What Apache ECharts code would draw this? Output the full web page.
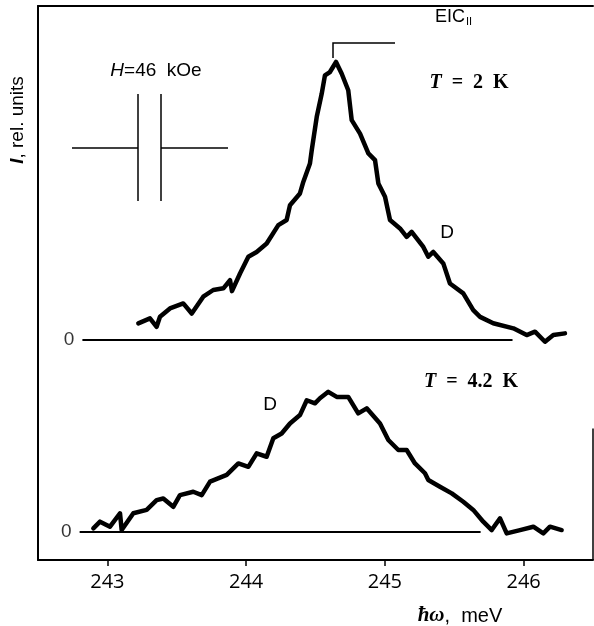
<!DOCTYPE html>
<html>
<head>
<meta charset="utf-8">
<script src="https://cdn.jsdelivr.net/npm/echarts@6/dist/echarts.min.js"></script>
<style>
html,body{margin:0;padding:0;background:#fff;}
#c{width:594px;height:626px;}
</style>
</head>
<body>
<div id="c"></div>
<script>
// ---- data ----
const xTicks = [243, 244, 245, 246];

// T = 2 K trace (energy, meV) and intensity relative to its own baseline
const upperE = [243.223,243.307,243.355,243.379,243.451,243.547,243.608,243.691,243.763,243.836,243.884,243.898,243.956,244.016,244.076,244.148,244.232,244.292,244.316,244.388,244.412,244.46,244.473,244.509,244.545,244.568,244.604,244.648,244.689,244.736,244.761,244.821,244.881,244.929,244.953,245.001,245.037,245.109,245.157,245.193,245.277,245.313,245.349,245.421,245.469,245.565,245.637,245.686,245.781,245.926,246.022,246.082,246.154,246.214,246.298];
const upperI = [5.96,7.75,4.75,8.32,11.3,13.1,9.5,15.5,17.9,18.5,21.4,17.5,23.8,29.8,31.5,34.5,41.1,42.9,48.2,52.4,56.5,63.1,67.9,79.8,88.1,94.6,95.8,99.4,95.2,89.3,78.6,73.8,66.7,64.3,56,51.2,42.9,39.9,36.9,38.7,33.3,29.8,31.5,27.4,20.2,16.7,10.7,8.3,6,4.2,1.8,3,-0.6,1.8,2.4];

// T = 4.2 K trace
const lowerE = [242.899,242.947,243.019,243.091,243.103,243.187,243.283,243.355,243.403,243.475,243.523,243.619,243.68,243.74,243.86,243.944,244.016,244.076,244.148,244.196,244.256,244.316,244.388,244.437,244.496,244.532,244.592,244.653,244.736,244.808,244.869,244.965,245.025,245.097,245.157,245.217,245.289,245.313,245.397,245.482,245.565,245.637,245.709,245.77,245.83,245.878,245.974,246.07,246.142,246.19,246.274];
const lowerI = [1.3,3.7,1.9,6.7,0.7,6.7,7.9,11.4,12,9,13.2,14.4,13.2,18,20.4,24.5,23.3,28.1,26.9,33.5,35.2,38.8,41.8,47.1,46,47.8,50.1,48.3,48.3,42.4,44.2,38.8,32.9,29.3,29.3,24.5,21,18.6,16.2,13.8,10.8,7.9,3.7,0.7,4.9,-0.5,0.7,1.9,-0.5,1.9,0.7];

// baselines (zero levels) and their extents
const upperOffset = 68.6;
const lowerOffset = 0;
const upperBaseRange = [242.82, 245.92];
const lowerBaseRange = [242.80, 245.69];

// ---- build ----
const upperData = upperE.map((e, i) => [e, upperI[i] + upperOffset]);
const lowerData = lowerE.map((e, i) => [e, lowerI[i] + lowerOffset]);

const chart = echarts.init(document.getElementById('c'), null, {renderer: 'canvas'});
const lineCol = '#000';
const sans = '"Liberation Sans", Arial, sans-serif';
const serif = '"Liberation Serif", "DejaVu Serif", serif';

const option = {
  backgroundColor: '#fff',
  animation: false,
  grid: {left: 38, right: 1, top: 6, bottom: 66, containLabel: false},
  xAxis: [{
    type: 'value', min: 242.5, max: 246.5, position: 'bottom',
    axisLine: {show: true, onZero: false, lineStyle: {color: lineCol, width: 2}},
    axisTick: {show: true, customValues: xTicks, length: 6, inside: false, lineStyle: {color: lineCol, width: 1.5}},
    axisLabel: {show: true, customValues: xTicks, margin: 12, fontSize: 20, color: '#000', fontFamily: '"Open Sans", "Liberation Sans", sans-serif'},
    splitLine: {show: false}
  }, {
    type: 'value', min: 242.5, max: 246.5, position: 'top',
    axisLine: {show: true, onZero: false, lineStyle: {color: lineCol, width: 2}},
    axisTick: {show: false}, axisLabel: {show: false}, splitLine: {show: false}
  }],
  yAxis: {
    type: 'value', min: -10, max: 188,
    axisLine: {show: true, onZero: false, lineStyle: {color: lineCol, width: 2}},
    axisTick: {show: false}, axisLabel: {show: false}, splitLine: {show: false}
  },
  series: [
    {type: 'line', data: upperData, showSymbol: false, symbol: 'none', smooth: false,
     lineStyle: {color: lineCol, width: 4.5, join: 'round', cap: 'round'}},
    {type: 'line', data: lowerData, showSymbol: false, symbol: 'none', smooth: false,
     lineStyle: {color: lineCol, width: 4.5, join: 'round', cap: 'round'}},
    {type: 'line', data: upperBaseRange.map(e => [e, upperOffset]), symbol: 'none',
     lineStyle: {color: lineCol, width: 2}},
    {type: 'line', data: lowerBaseRange.map(e => [e, lowerOffset]), symbol: 'none',
     lineStyle: {color: lineCol, width: 2}},
    {type: 'scatter', symbolSize: 0,
     data: [[upperBaseRange[0], upperOffset], [lowerBaseRange[0], lowerOffset]],
     label: {show: true, position: 'left', distance: 8, formatter: '0', fontSize: 19, color: '#000', fontFamily: sans}},
    // partial right frame line
    {type: 'line', data: [[246.5, lowerOffset - 10], [246.5, 37]], symbol: 'none',
     lineStyle: {color: lineCol, width: 1.5}}
  ],
  graphic: [
    // y-axis title
    {type: 'text', x: 18, y: 120, rotation: Math.PI / 2,
     style: {text: '{i|I}, rel. units', align: 'center', verticalAlign: 'middle', fill: '#000',
       font: '19px ' + sans,
       rich: {i: {fontStyle: 'italic', fontWeight: 'bold', fontSize: 19, fontFamily: sans}}}},
    // x-axis title
    {type: 'text', x: 460, y: 616,
     style: {text: '{h|ħω},  meV', align: 'center', verticalAlign: 'middle', fill: '#000',
       font: '20px ' + sans,
       rich: {h: {fontStyle: 'italic', fontWeight: 'bold', fontSize: 21, fontFamily: serif}}}},
    // H = 46 kOe
    {type: 'text', x: 156, y: 71,
     style: {text: '{i|H}=46  kOe', align: 'center', verticalAlign: 'middle', fill: '#000',
       font: '19px ' + sans,
       rich: {i: {fontStyle: 'italic', fontSize: 19, fontFamily: sans}}}},
    // field symbol
    {type: 'line', shape: {x1: 72, y1: 148, x2: 138, y2: 148}, style: {stroke: '#000', lineWidth: 1.5}},
    {type: 'line', shape: {x1: 138, y1: 94, x2: 138, y2: 201}, style: {stroke: '#000', lineWidth: 1.5}},
    {type: 'line', shape: {x1: 161, y1: 94, x2: 161, y2: 201}, style: {stroke: '#000', lineWidth: 1.5}},
    {type: 'line', shape: {x1: 161, y1: 148, x2: 228, y2: 148}, style: {stroke: '#000', lineWidth: 1.5}},
    // EIC bracket
    {type: 'polyline', shape: {points: [[333, 58], [333, 43], [395, 43]]}, style: {stroke: '#000', lineWidth: 1.5, fill: null}},
    {type: 'text', x: 435, y: 17,
     style: {text: 'EIC{s|II}', align: 'left', verticalAlign: 'middle', fill: '#000',
       font: '18px ' + sans,
       rich: {s: {fontSize: 11, fontFamily: sans, padding: [10, 0, 0, 1]}}}},
    // temperatures
    {type: 'text', x: 469, y: 83,
     style: {text: '{i|T}  =  2  K', align: 'center', verticalAlign: 'middle', fill: '#000',
       font: 'bold 20px ' + serif,
       rich: {i: {fontStyle: 'italic', fontWeight: 'bold', fontSize: 20, fontFamily: serif}}}},
    {type: 'text', x: 471, y: 382,
     style: {text: '{i|T}  =  4.2  K', align: 'center', verticalAlign: 'middle', fill: '#000',
       font: 'bold 20px ' + serif,
       rich: {i: {fontStyle: 'italic', fontWeight: 'bold', fontSize: 20, fontFamily: serif}}}},
    // D labels
    {type: 'text', x: 447, y: 233,
     style: {text: 'D', align: 'center', verticalAlign: 'middle', fill: '#000', font: '19px ' + sans}},
    {type: 'text', x: 270, y: 405,
     style: {text: 'D', align: 'center', verticalAlign: 'middle', fill: '#000', font: '19px ' + sans}}
  ]
};
chart.setOption(option);
</script>
</body>
</html>
